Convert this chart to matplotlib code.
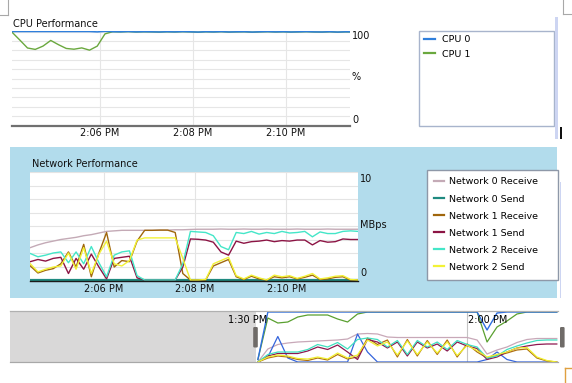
import matplotlib
matplotlib.use("Agg")
import matplotlib.pyplot as plt
import numpy as np
from matplotlib.patches import Rectangle, FancyBboxPatch
from matplotlib.transforms import blended_transform_factory

plt.rcParams['font.family'] = ['DejaVu Sans']
plt.rcParams['font.size'] = 7.0

# ---------------- data ----------------
# CPU chart: samples every 10 s, time in minutes after 2:00 PM
cpu_start, cpu_step = 4.108, 1 / 6
cpu0 = [100, 100, 100, 100, 100, 100, 100, 100, 100, 100, 100, 99.6, 100.2, 99.8,
        99.7, 100, 99.6, 99.8, 99.7, 99.5, 99.8, 99.6, 99.9, 99.7, 99.4, 99.8, 99.6,
        99.9, 99.5, 99.7, 99.8, 99.4, 99.7, 99.9, 99.6, 99.8, 99.5, 99.7, 99.9, 99.6,
        99.5, 99.8, 99.4, 99.7, 99.6]
cpu1 = [99.3, 91, 82.5, 81, 84.5, 90.5, 86, 82, 81.2, 82.6, 80.2, 84.5, 97.5, 99.8,
        99.6, 99.9, 99.5, 99.7, 99.6, 99.4, 99.7, 99.5, 99.8, 99.6, 99.3, 99.7, 99.5,
        99.8, 99.4, 99.6, 99.7, 99.3, 99.6, 99.8, 99.5, 99.7, 99.4, 99.6, 99.8, 99.5,
        99.4, 99.7, 99.3, 99.6, 99.5]
cpu_labels = ['CPU 0', 'CPU 1']

# Network chart (MBps): samples every 10 s
net_start, net_step = 4.40, 1 / 6
net0_recv = [3.0, 3.25, 3.45, 3.6, 3.75, 3.85, 3.95, 4.1, 4.2, 4.35, 4.5, 4.55, 4.6, 4.6,
             4.6, 4.6, 4.6, 4.62, 4.62, 4.65, 4.65, 4.68, 4.7, 4.7, 4.7, 4.72, 4.7, 4.7,
             4.72, 4.7, 4.7, 4.72, 4.7, 4.7, 4.7, 4.72, 4.7, 4.7, 4.7, 4.72, 4.7, 4.7,
             4.7, 4.7]
net0_send = [0.0] * 44
net1_recv = [1.3, 0.65, 0.9, 1.05, 1.5, 2.6, 1.2, 3.3, 0.3, 2.5, 4.4, 1.2, 1.8, 1.7,
             3.6, 4.6, 4.6, 4.62, 4.62, 4.4, 0.6, 0.0, 0.0, 0.0, 1.3, 1.6, 1.9, 0.3,
             0.05, 0.35, 0.1, 0.0, 0.3, 0.2, 0.3, 0.1, 0.25, 0.45, 0.05, 0.1, 0.25, 0.3,
             0.0, 0.0]
net1_send = [1.7, 1.9, 1.75, 2.0, 2.1, 0.6, 2.0, 1.0, 2.4, 1.2, 0.1, 2.0, 2.1, 2.2,
             0.2, 0.0, 0.0, 0.0, 0.0, 0.0, 1.2, 3.8, 3.77, 3.7, 3.5, 2.6, 2.3, 3.6,
             3.4, 3.55, 3.6, 3.7, 3.55, 3.65, 3.6, 3.7, 3.7, 3.25, 3.65, 3.5, 3.55, 3.8,
             3.75, 3.75]
net2_recv = [2.45, 2.15, 2.3, 2.5, 2.6, 1.6, 2.6, 1.5, 3.1, 1.6, 0.3, 2.3, 2.6, 2.7,
             0.4, 0.0, 0.0, 0.0, 0.0, 0.0, 1.5, 4.5, 4.45, 4.4, 4.1, 3.1, 2.8, 4.4,
             4.3, 4.5, 4.25, 4.4, 4.3, 4.5, 4.35, 4.4, 4.5, 4.0, 4.45, 4.3, 4.3, 4.5,
             4.55, 4.5]
net2_send = [1.5, 0.75, 1.0, 1.2, 1.3, 2.5, 1.0, 3.0, 0.6, 2.4, 3.6, 1.5, 1.3, 1.8,
             3.7, 3.9, 3.9, 3.9, 3.9, 3.9, 2.0, 0.0, 0.0, 0.05, 1.5, 1.8, 2.1, 0.4,
             0.1, 0.45, 0.2, 0.0, 0.45, 0.3, 0.4, 0.15, 0.35, 0.6, 0.1, 0.2, 0.35, 0.4,
             0.05, 0.0]
net_labels = ['Network 0 Receive', 'Network 0 Send', 'Network 1 Receive',
              'Network 1 Send', 'Network 2 Receive', 'Network 2 Send']

time_ticks = [6, 8, 10]
time_tick_labels = ['2:06 PM', '2:08 PM', '2:10 PM']

# Overview strip: samples every 75 s, time in minutes after 1:00 PM
ov_start, ov_step = 33.75, 1.25
ov_cpu0 = [5, 100, 100, 100, 100, 100, 100, 100, 100, 100, 100, 100, 100, 100, 100,
           100, 100, 100, 100, 100, 100, 100, 100, 64, 98, 100, 100, 100, 100, 100, 100]
ov_cpu1 = [5, 88, 78, 80, 90, 94, 94, 94, 86, 80, 96, 100, 100, 100, 100, 100, 100,
           100, 100, 100, 100, 100, 100, 40, 70, 82, 96, 100, 100, 100, 100]
ov_net0_recv = [0, 2.6, 3.5, 3.8, 4.0, 4.1, 4.2, 4.3, 4.4, 4.6, 5.6, 5.7, 5.6, 5.0,
                4.9, 4.9, 4.9, 4.9, 4.9, 4.9, 4.9, 4.9, 4.4, 1.6, 2.4, 3.0, 3.9, 4.5,
                4.7, 4.7, 4.7]
ov_net0_send = [0, 1.0, 5.1, 0.8, 0, 0, 0, 0, 0, 0, 5.6, 2.0, 0, 0, 0, 0, 0, 0, 0,
                0, 0, 0, 0, 0.5, 2.0, 0.5, 0, 0, 0, 0, 0]
ov_net1_recv = [0, 0.8, 1.2, 1.0, 0.5, 0.3, 0.8, 0.4, 1.5, 0.6, 1.0, 4.8, 3.5, 4.4,
                1.0, 4.5, 1.2, 4.3, 1.5, 4.4, 1.0, 3.6, 2.0, 0.8, 1.3, 1.8, 2.4, 2.6,
                0.8, 0.2, 0.0]
ov_net1_send = [0, 1.2, 1.7, 1.7, 1.7, 2.2, 3.0, 2.5, 3.4, 2.0, 0.5, 4.5, 4.0, 2.8,
                4.0, 1.2, 4.0, 2.8, 3.6, 2.2, 4.0, 3.2, 2.7, 0.5, 1.0, 2.0, 2.8, 3.2,
                3.5, 3.6, 3.6]
ov_net2_recv = [0, 1.5, 2.0, 2.0, 2.0, 2.5, 3.5, 3.0, 3.9, 2.6, 4.5, 4.8, 4.5, 3.0,
                4.3, 1.5, 4.3, 3.0, 4.0, 2.5, 4.3, 3.5, 3.0, 0.8, 1.2, 2.5, 3.2, 3.8,
                4.3, 4.4, 4.4]
ov_net2_send = [0, 1.0, 1.4, 1.2, 0.7, 0.6, 1.0, 0.6, 1.8, 0.8, 1.4, 4.4, 3.2, 4.0,
                1.4, 4.2, 1.5, 4.0, 1.8, 4.0, 1.3, 3.3, 2.3, 1.0, 1.5, 2.0, 2.8, 2.9,
                1.0, 0.3, 0.0]
ov_ticks = [30, 60]
ov_tick_labels = ['1:30 PM', '2:00 PM']

# ---------------- style ----------------
cpu_colors = ['#2f7fdc', '#6aa83e']
net_colors = ['#c4aab6', '#1f8a80', '#a0660c', '#8c1444', '#44e6c8', '#f2f236']
ov_colors = {'cpu0': '#2f6fe0', 'cpu1': '#5aa030', 'n0r': '#c8a8b8', 'n0s': '#3565dc',
             'n1r': '#b07010', 'n1s': '#8c1850', 'n2r': '#40e0c0', 'n2s': '#f0f030'}
panel_blue = '#b2dcec'
grid_c = '#e6e6e6'

W, H = 572, 383
fig = plt.figure(figsize=(W / 100, H / 100), dpi=100)
fig.patch.set_facecolor('white')


def px_axes(x0, y0, x1, y1, **kw):
    return fig.add_axes([x0 / W, 1 - y1 / H, (x1 - x0) / W, (y1 - y0) / H], **kw)


# background overlay (pixel coordinates)
bg = fig.add_axes([0, 0, 1, 1], zorder=0)
bg.set_xlim(0, W); bg.set_ylim(H, 0); bg.axis('off')
bg.add_patch(Rectangle((10, 147), 547, 151, facecolor=panel_blue, edgecolor='none'))
bg.add_patch(Rectangle((419, 31), 135, 94.5, facecolor='white', edgecolor='#a8b4cc', lw=1.0))
bg.add_patch(Rectangle((427, 170), 130.5, 110, facecolor='white', edgecolor='#8e98a8', lw=1.0))

# foreground overlay
ov = fig.add_axes([0, 0, 1, 1], zorder=10)
ov.set_xlim(0, W); ov.set_ylim(H, 0); ov.axis('off'); ov.patch.set_alpha(0)

# ---------------- CPU chart ----------------
ax1 = px_axes(12, 30.56, 350, 125.7, zorder=2)
t_cpu = cpu_start + cpu_step * np.arange(len(cpu0))
l_c1, = ax1.plot(t_cpu, cpu1, color=cpu_colors[1], lw=1.0)
l_c0, = ax1.plot(t_cpu, cpu0, color=cpu_colors[0], lw=1.1)
ax1.set_xlim(4.108, 11.376)
ax1.set_ylim(0, 101)
ax1.set_yticks(np.arange(0, 101, 10))
ax1.set_yticklabels([])
ax1.set_xticks(time_ticks, time_tick_labels)
ax1.tick_params(axis='both', length=0)
ax1.tick_params(axis='x', pad=1.5, labelsize=7.0, labelcolor='#111111')
ax1.grid(True, color=grid_c, lw=0.8)
ax1.set_axisbelow(True)
for s in ['top', 'left', 'right']:
    ax1.spines[s].set_visible(False)
ax1.spines['bottom'].set_color('#707070')
ax1.spines['bottom'].set_linewidth(1.6)
leg1 = ax1.legend(handles=[l_c0, l_c1], labels=cpu_labels, loc='upper left',
                  bbox_to_anchor=(423.5, 35.5), bbox_transform=ov.transData,
                  frameon=False, borderpad=0, borderaxespad=0, handlelength=1.2,
                  handletextpad=0.8, labelspacing=0.56, fontsize=6.8)
for lh in leg1.get_lines():
    lh.set_linewidth(1.6)

ov.text(13, 27.3, 'CPU Performance', ha='left', va='baseline', color='#111111')
ov.text(352, 39, '100', ha='left', va='baseline', color='#111111')
ov.text(352, 80, '%', ha='left', va='baseline', color='#111111')
ov.text(352, 122.7, '0', ha='left', va='baseline', color='#111111')

# ---------------- Network chart ----------------
ax2 = px_axes(30, 172, 358, 281.3, zorder=2)
t_net = net_start + net_step * np.arange(len(net0_recv))
net_series = [net0_recv, net0_send, net1_recv, net1_send, net2_recv, net2_send]
net_lines = []
for vals, c in zip(net_series, net_colors):
    ln, = ax2.plot(t_net, vals, color=c, lw=1.0)
    net_lines.append(ln)
net_lines[1].set_linewidth(1.6)
net_lines[1].set_zorder(1.9)
ax2.set_xlim(4.393, 11.563)
ax2.set_ylim(-0.12, 10)
ax2.set_yticks(np.arange(0, 10.01, 1.25))
ax2.set_yticklabels([])
ax2.set_xticks(time_ticks, time_tick_labels)
ax2.tick_params(axis='both', length=0)
ax2.tick_params(axis='x', pad=1.8, labelsize=7.0, labelcolor='#111111')
ax2.grid(True, color='#e4e4e4', lw=0.8)
ax2.set_axisbelow(True)
for s in ['top', 'left', 'right']:
    ax2.spines[s].set_visible(False)
ax2.spines['bottom'].set_color('#1a1a1a')
ax2.spines['bottom'].set_linewidth(1.0)
leg2 = ax2.legend(handles=net_lines, labels=net_labels, loc='upper left',
                  bbox_to_anchor=(433.5, 177.5), bbox_transform=ov.transData,
                  frameon=False, borderpad=0, borderaxespad=0, handlelength=1.15,
                  handletextpad=0.5, labelspacing=0.85, fontsize=6.8)
for lh in leg2.get_lines():
    lh.set_linewidth(1.6)

ov.text(31.5, 166.7, 'Network Performance', ha='left', va='baseline', color='#111111')
ov.text(359.5, 182, '10', ha='left', va='baseline', color='#111111')
ov.text(360, 228.3, 'MBps', ha='left', va='baseline', color='#111111')
ov.text(360, 276, '0', ha='left', va='baseline', color='#111111')

# ---------------- Overview strip ----------------
ax3 = px_axes(10, 311, 558, 362, zorder=2)
t_ov = ov_start + ov_step * np.arange(len(ov_cpu0))
ax3.set_xlim(2.65, 71.4)
ax3.set_ylim(0, 102)
ax3.axvspan(2.65, 33.5, color='#d9d8d8', lw=0)
ax3b = ax3.twinx()
ax3b.set_ylim(0, 10.2)
for vals, key in [(ov_net0_recv, 'n0r'), (ov_net0_send, 'n0s'), (ov_net1_recv, 'n1r'),
                  (ov_net1_send, 'n1s'), (ov_net2_recv, 'n2r'), (ov_net2_send, 'n2s')]:
    ax3b.plot(t_ov, vals, color=ov_colors[key], lw=0.9)
ax3b.plot(t_ov, ov_cpu1, color=ov_colors['cpu1'], lw=0.9, transform=ax3.transData)
ax3b.plot(t_ov, ov_cpu0, color=ov_colors['cpu0'], lw=1.0, transform=ax3.transData)
ax3.set_xticks(ov_ticks)
ax3.set_xticklabels([])
ax3.set_yticks([])
ax3.tick_params(axis='both', length=0)
ax3.grid(True, axis='x', color='#c4c4c4', lw=0.8)
ax3.set_axisbelow(True)
for a in (ax3, ax3b):
    for s in ['left', 'right']:
        a.spines[s].set_visible(False)
    a.spines['top'].set_color('#b0b0b0')
    a.spines['bottom'].set_color('#a8a8a8')
ax3b.set_yticks([])
ax3b.tick_params(length=0)
tr = blended_transform_factory(ax3.transData, ax3.transAxes)
for tk, lab in zip(ov_ticks, ov_tick_labels):
    ax3b.text(tk + 0.05, 0.755, lab, transform=tr, ha='left', va='baseline',
              color='#000000', fontsize=7.0)

# handles of the overview selection
for hx in (253.2, 560):
    ov.add_patch(FancyBboxPatch((hx, 327), 4.6, 20.5, boxstyle='round,pad=0,rounding_size=1.2',
                                facecolor='#6f6b68', edgecolor='none'))

# small window decorations
ov.plot([8.3, 8.3], [0, 15], color='#a8a8a8', lw=0.8)
ov.plot([0, 8.3], [15, 15], color='#a8a8a8', lw=0.8)
ov.plot([562.5, 562.5], [0, 14], color='#a8a8a8', lw=0.8)
ov.plot([562.5, 572], [14, 14], color='#a8a8a8', lw=0.8)
ov.add_patch(Rectangle((555, 17), 3, 122, facecolor='#cdd5f2', edgecolor='none'))
ov.add_patch(Rectangle((559.8, 127), 1.8, 12, facecolor='#111111', edgecolor='none'))
ov.add_patch(Rectangle((559.5, 182), 1.5, 116, facecolor='#cdd5f2', edgecolor='none'))
ov.plot([564.5, 564.5], [368, 383], color='#e0a040', lw=1.0)
ov.plot([564.5, 572], [368, 368], color='#e0a040', lw=1.0)

fig.savefig('out.png', dpi=100)
